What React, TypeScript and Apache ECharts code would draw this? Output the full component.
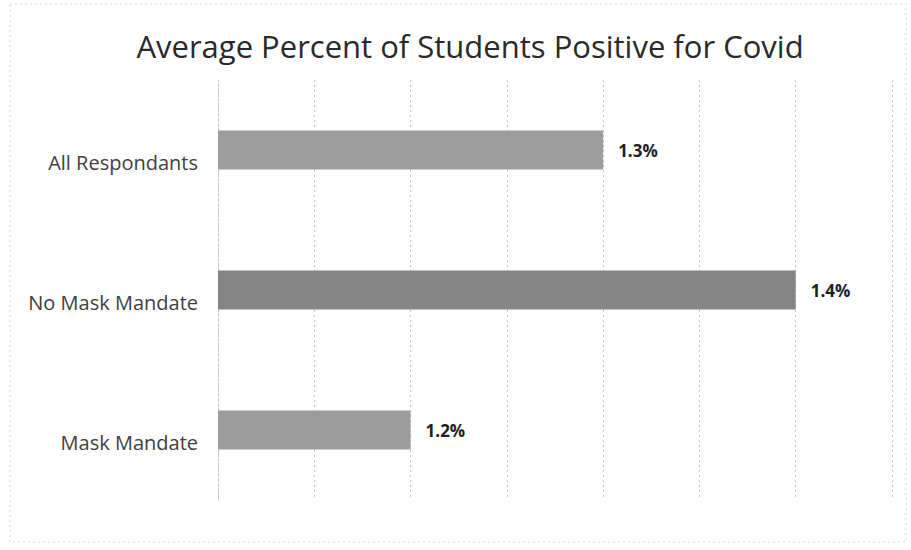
import React, { useEffect, useRef } from "react";
import * as echarts from "echarts";

const categories = ["Mask Mandate", "No Mask Mandate", "All Respondants"];
const values = [1.2, 1.4, 1.3];
const barColors = ["#9c9c9c", "#858585", "#9d9d9d"];
const titleText = "Average Percent of Students Positive for Covid";
const axisMin = 1.1;
const axisMax = 1.45;
const axisStep = 0.05;

export default function App() {
  const ref = useRef<HTMLDivElement>(null);
  useEffect(() => {
    if (!ref.current) return;
    const chart = echarts.init(ref.current, undefined, { renderer: "svg" });
    chart.setOption({
      animation: false,
      backgroundColor: "#ffffff",
      title: {
        text: titleText,
        left: 465,
        top: 25,
        textAlign: "center",
        textStyle: {
          fontFamily: "Open Sans",
          fontSize: 31,
          fontWeight: "normal",
          color: "#2a2a2a",
        },
      },
      graphic: [
        {
          type: "rect",
          shape: { x: 10, y: 4, width: 896, height: 538 },
          style: { fill: "none", stroke: "#d8d8d8", lineWidth: 1, lineDash: [2, 3] },
          silent: true,
        },
      ],
      grid: { left: 218, right: 19, top: 80, bottom: 50 },
      xAxis: {
        type: "value",
        min: axisMin,
        max: axisMax,
        interval: axisStep,
        axisLabel: { show: false },
        axisTick: { show: false },
        axisLine: { show: false },
        splitLine: { show: true, lineStyle: { color: "#c4c4c4", type: [2, 3], width: 1 } },
      },
      yAxis: {
        type: "category",
        data: categories,
        axisTick: { show: false },
        axisLine: { show: true, lineStyle: { color: "#c4c4c4", type: [2, 3] } },
        axisLabel: {
          margin: 20,
          fontFamily: "Open Sans",
          fontSize: 20,
          color: "#404040",
          verticalAlign: "top",
          lineHeight: 24,
        },
      },
      series: [
        {
          type: "bar",
          data: values.map((v, i) => ({ value: v, itemStyle: { color: barColors[i] } })),
          barWidth: 39,
          label: {
            show: true,
            position: "right",
            distance: 15,
            formatter: (p: any) => p.value.toFixed(1) + "%",
            fontFamily: "Open Sans",
            fontWeight: "bold",
            fontSize: 17,
            color: "#1e1e1e",
          },
        },
      ],
    });
    return () => chart.dispose();
  }, []);
  return (
    <div
      ref={ref}
      style={{ position: "absolute", left: 0, top: 0, width: 911, height: 550 }}
    />
  );
}
